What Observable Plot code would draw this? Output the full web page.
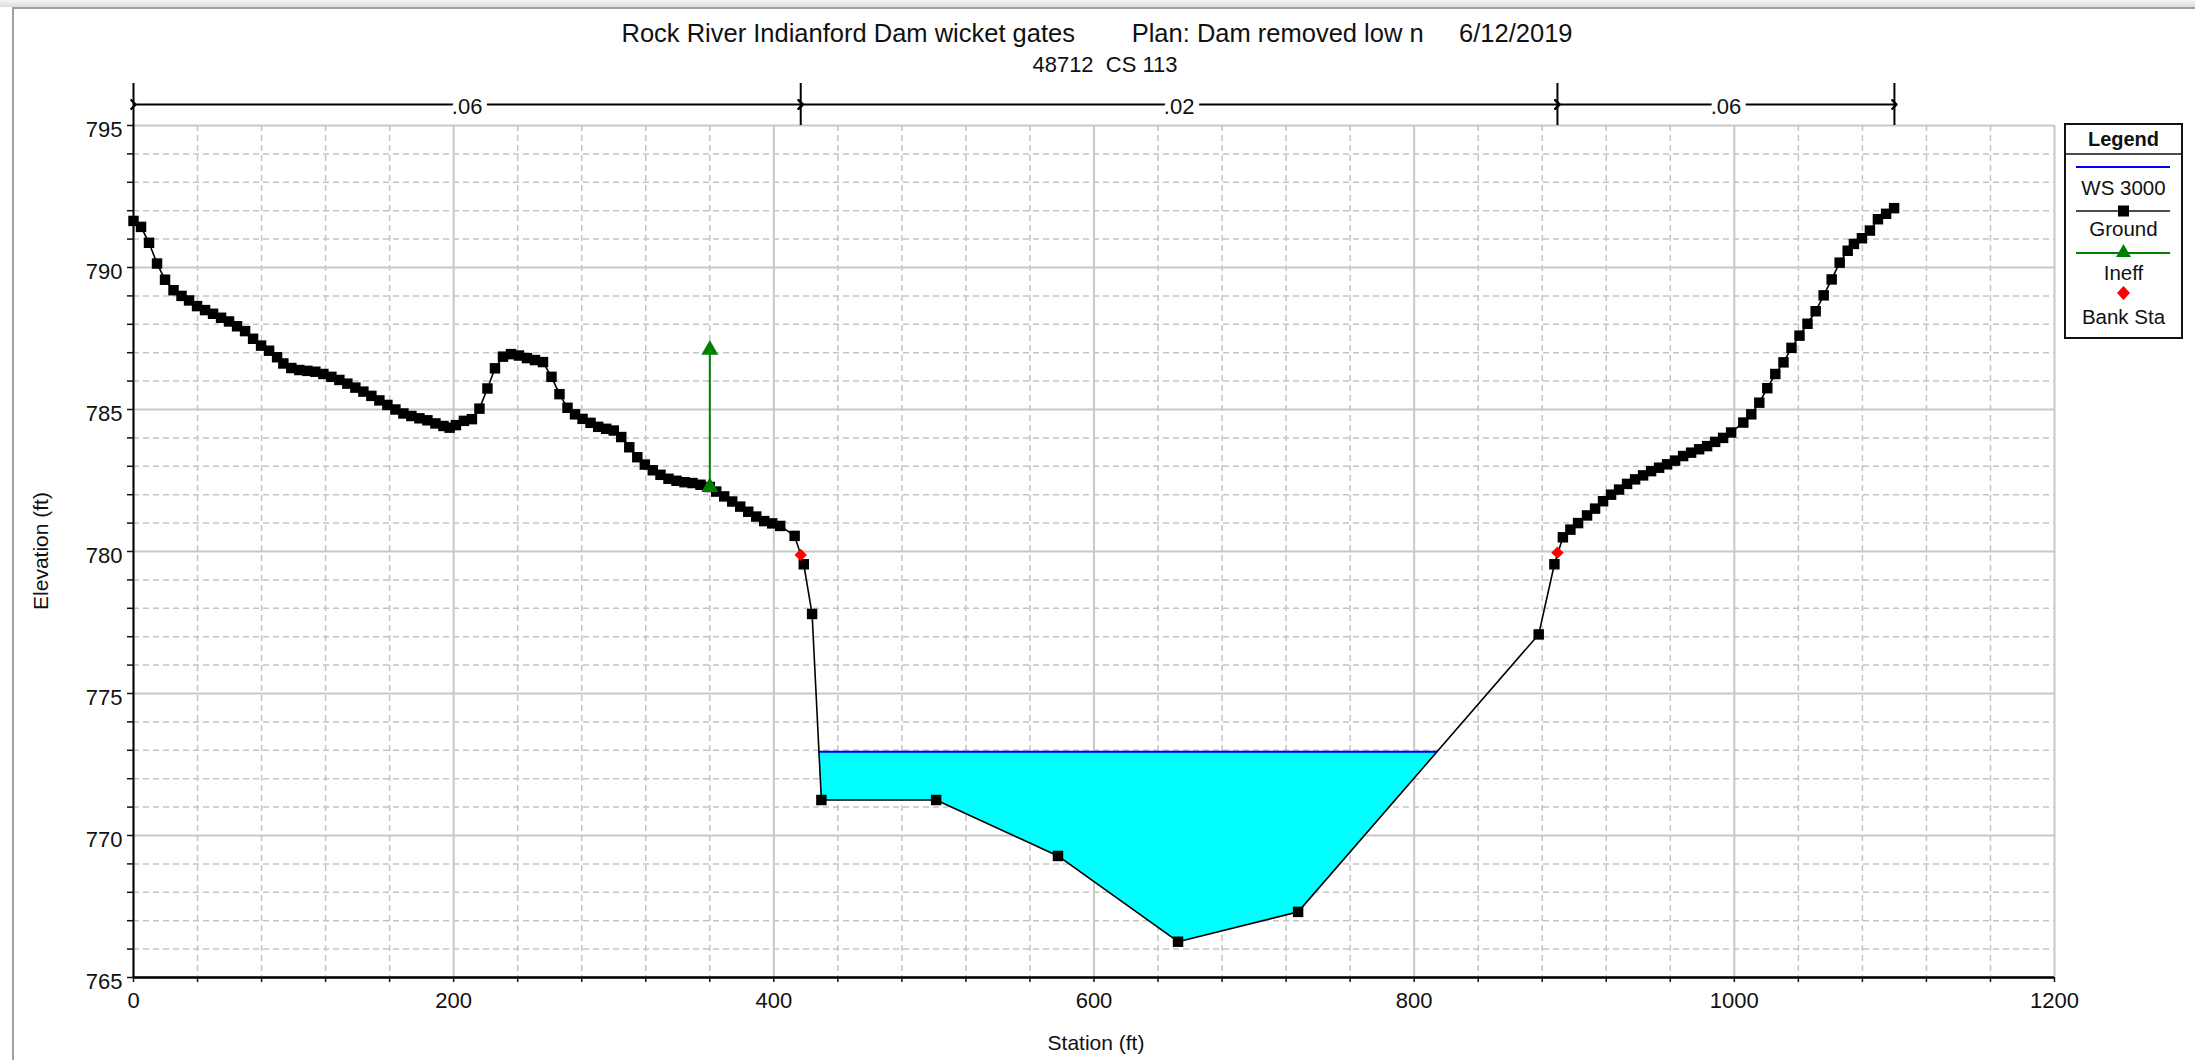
<!DOCTYPE html>
<html>
<head>
<meta charset="utf-8">
<script src="https://cdn.jsdelivr.net/npm/d3@7"></script>
<script src="https://cdn.jsdelivr.net/npm/@observablehq/plot@0.6"></script>
<style>
  body { margin: 0; background: #fff; font-family: "Liberation Sans", Arial, sans-serif; }
  #wrap { position: relative; width: 2195px; height: 1060px; overflow: hidden; background: #fff; }
  #topband { position: absolute; left: 0; top: 0; width: 2195px; height: 7px; background: linear-gradient(#f4f4f4, #dcdcdc); }
  #frameTop { position: absolute; left: 12px; top: 7px; width: 2183px; height: 2px; background: #a0a0a0; }
  #frameLeft { position: absolute; left: 12px; top: 7px; width: 2px; height: 1053px; background: #a0a0a0; }
  #chart { position: absolute; left: 0; top: 0; }
  .ttl { position: absolute; left: 0; width: 2194px; text-align: center; white-space: pre; line-height: 1; color: #111; }
  #title { top: 21px; font-size: 25.5px; }
  #subtitle { top: 54px; font-size: 22px; width: 2210px; }
  #ylabel { position: absolute; left: 40px; top: 551px; transform: translate(-50%, -50%) rotate(-90deg); font-size: 21px; white-space: pre; line-height: 1; color: #111; }
  #xlabel { position: absolute; left: 1096px; top: 1042px; transform: translate(-50%, -50%); font-size: 21px; white-space: pre; line-height: 1; color: #111; }
  #legend { position: absolute; left: 2064px; top: 123px; }
</style>
</head>
<body>
<div id="wrap">
  <div id="topband"></div>
  <div id="frameTop"></div>
  <div id="frameLeft"></div>
  <div id="chart"></div>
  <div id="title" class="ttl">Rock River Indianford Dam wicket gates        Plan: Dam removed low n     6/12/2019</div>
  <div id="subtitle" class="ttl">48712  CS 113</div>
  <div id="ylabel">Elevation (ft)</div>
  <div id="xlabel">Station (ft)</div>
  <svg id="legend" width="120" height="217" font-family="'Liberation Sans', Arial, sans-serif">
    <rect x="1" y="1" width="117" height="214" fill="#fff" stroke="#111" stroke-width="2"/>
    <line x1="1" x2="118" y1="31" y2="31" stroke="#111" stroke-width="1.5"/>
    <text x="59.5" y="23" text-anchor="middle" font-weight="bold" font-size="20" fill="#111">Legend</text>
    <line x1="12" x2="106" y1="44" y2="44" stroke="#0000ff" stroke-width="2"/>
    <text x="59.5" y="72" text-anchor="middle" font-size="20.5" fill="#111">WS 3000</text>
    <line x1="12" x2="106" y1="88" y2="88" stroke="#111" stroke-width="1.5"/>
    <rect x="54" y="82.5" width="11" height="11" fill="#000"/>
    <text x="59.5" y="113" text-anchor="middle" font-size="20.5" fill="#111">Ground</text>
    <line x1="12" x2="106" y1="130" y2="130" stroke="#008000" stroke-width="2"/>
    <path d="M59.5,121 L67,134 L52,134 Z" fill="#008000"/>
    <text x="59.5" y="157" text-anchor="middle" font-size="20.5" fill="#111">Ineff</text>
    <path d="M59.5,163 L66,170 L59.5,177 L53,170 Z" fill="#ff0000"/>
    <text x="59.5" y="201" text-anchor="middle" font-size="20.5" fill="#111">Bank Sta</text>
  </svg>
</div>
<script>
// ---------------- data ----------------
const groundStation = [
  0, 4.7, 9.7, 14.7, 19.7, 25, 30, 34.7, 39.7, 44.7, 49.7, 54.7, 59.7, 64.7, 69.7, 74.7, 79.7, 84.7, 89.7, 93.6,
  98.6, 103.6, 108.6, 113.6, 118.6, 123.6, 128.6, 133.6, 138.6, 143.6, 148.6, 153.6, 158.6, 163.6, 168.6, 173.6,
  178.6, 183.6, 188.6, 193.6, 197.5, 201.4, 206.4, 211.4, 216.1, 221.1, 225.8, 230.8, 235.8, 240.8, 245.8, 250.8,
  255.8, 261.1, 266.1, 271.1, 275.8, 280.5, 285.5, 290.3, 295.3, 300, 304.7, 309.7, 314.7, 319.4, 324.4, 329.2,
  334.2, 339.2, 344.2, 349.2, 354.2, 360, 364, 369, 374, 379, 384, 389, 394, 399, 404, 413, 418.7, 423.9,
  429.7, 501.4, 577.5, 652.5, 727.5, 877.8, 887.6, 892.9, 897.6, 902.4, 908, 913, 918, 923, 928, 933, 938, 943,
  948, 953, 958, 963, 968, 973, 978, 983, 988, 993, 998, 1005.6, 1010.6, 1015.6, 1020.6, 1025.6, 1030.7, 1035.7,
  1040.7, 1045.7, 1050.8, 1055.8, 1060.8, 1065.8, 1070.8, 1074.7, 1079.7, 1084.7, 1089.7, 1094.8, 1099.8
];
const groundElev = [
  791.64, 791.43, 790.87, 790.14, 789.57, 789.2, 789.0, 788.84, 788.64, 788.5, 788.37, 788.23, 788.1, 787.93, 787.76, 787.49, 787.25, 787.07, 786.84, 786.62,
  786.46, 786.39, 786.36, 786.33, 786.25, 786.15, 786.04, 785.91, 785.77, 785.63, 785.48, 785.32, 785.16, 785.0, 784.86, 784.77,
  784.69, 784.62, 784.51, 784.42, 784.36, 784.45, 784.6, 784.66, 785.03, 785.74, 786.45, 786.86, 786.95, 786.9, 786.81, 786.74,
  786.67, 786.15, 785.54, 785.06, 784.83, 784.67, 784.53, 784.39, 784.32, 784.26, 784.03, 783.67, 783.32, 783.06, 782.86, 782.7,
  782.56, 782.49, 782.44, 782.41, 782.35, 782.27, 782.11, 781.94, 781.76, 781.58, 781.4, 781.23, 781.07, 780.99, 780.9, 780.55, 779.55, 777.8,
  771.25, 771.25, 769.28, 766.26, 767.31, 777.08, 779.55, 780.5, 780.77, 781.0, 781.27, 781.51, 781.77, 782.0, 782.18, 782.38, 782.54, 782.68,
  782.83, 782.95, 783.07, 783.2, 783.36, 783.48, 783.6, 783.71, 783.86, 784.0, 784.19, 784.54, 784.83, 785.24, 785.75, 786.25, 786.66, 787.17,
  787.6, 788.02, 788.46, 789.02, 789.58, 790.17, 790.59, 790.83, 791.03, 791.3, 791.7, 791.89, 792.09
];
const bankStation = [416.8, 889.5];
const bankElev = [779.88, 779.96];
const ineffStation = [360];
const ineffLow = [782.27];
const ineffHigh = [787.1];
const wsElev = 772.95;
const nBreaks = [0, 416.8, 889.5, 1100];
const nValues = [".06", ".02", ".06"];
const xTickLabels = [0, 200, 400, 600, 800, 1000, 1200];
const yTickLabels = [765, 770, 775, 780, 785, 790, 795];

// ---------------- derived tables ----------------
const ground = groundStation.map((s, i) => ({station: s, elev: groundElev[i]}));
const banks = bankStation.map((s, i) => ({station: s, elev: bankElev[i]}));
const ineff = ineffStation.map((s, i) => ({station: s, lo: ineffLow[i], hi: ineffHigh[i]}));
const ineffEnds = ineff.flatMap(d => [{station: d.station, elev: d.lo}, {station: d.station, elev: d.hi}]);
const nSegments = nValues.map((v, i) => ({x1: nBreaks[i], x2: nBreaks[i + 1], label: v}));

// water polygon: ground below WS between the crossings
function interp(a, b, level) {
  const t = (a.elev - level) / (a.elev - b.elev);
  return a.station + t * (b.station - a.station);
}
let iL = -1, iR = -1;
for (let i = 0; i < ground.length - 1; i++) {
  if (iL < 0 && ground[i].elev >= wsElev && ground[i + 1].elev < wsElev) iL = i;
  else if (iL >= 0 && ground[i].elev <= wsElev && ground[i + 1].elev > wsElev) { iR = i; break; }
}
const xLeft = interp(ground[iL], ground[iL + 1], wsElev);
const xRight = interp(ground[iR], ground[iR + 1], wsElev);
const water = [{station: xLeft, elev: wsElev}, ...ground.slice(iL + 1, iR + 1), {station: xRight, elev: wsElev}];

const xMinor = d3.range(0, 1201, 40);
const yMinor = d3.range(765, 796, 1);
const xMinorOnly = xMinor.filter(d => d % 200 !== 0);
const yMinorOnly = yMinor.filter(d => d % 5 !== 0);

const plot = Plot.plot({
  width: 2195,
  height: 1060,
  marginLeft: 133,
  marginRight: 141,
  marginTop: 125,
  marginBottom: 83,
  x: {domain: [0, 1200], label: null},
  y: {domain: [765, 795], label: null},
  style: {fontFamily: "'Liberation Sans', Arial, sans-serif", fontSize: "22px", color: "#111", background: "transparent", overflow: "visible"},
  marks: [
    Plot.gridX({ticks: xMinorOnly, stroke: "#c4c4c4", strokeOpacity: 1, strokeWidth: 1.5, strokeDasharray: "6,4"}),
    Plot.gridY({ticks: yMinorOnly, stroke: "#c4c4c4", strokeOpacity: 1, strokeWidth: 1.5, strokeDasharray: "6,4"}),
    Plot.gridX({ticks: xTickLabels, stroke: "#c8c8c8", strokeOpacity: 1, strokeWidth: 2}),
    Plot.gridY({ticks: yTickLabels, stroke: "#c8c8c8", strokeOpacity: 1, strokeWidth: 2}),
    Plot.areaY(water, {x: "station", y1: "elev", y2: wsElev, fill: "#00ffff", curve: "linear"}),
    Plot.ruleY([wsElev], {x1: xLeft, x2: xRight, stroke: "#0000ff", strokeWidth: 2}),
    Plot.line(ground, {x: "station", y: "elev", stroke: "#000", strokeWidth: 1.6}),
    Plot.dot(ground, {x: "station", y: "elev", symbol: "square", fill: "#000", r: 5.9}),
    Plot.ruleX(ineff, {x: "station", y1: "lo", y2: "hi", stroke: "#008000", strokeWidth: 2}),
    Plot.dot(ineffEnds, {x: "station", y: "elev", symbol: "triangle", fill: "#008000", r: 6.3}),
    Plot.dot(banks, {x: "station", y: "elev", symbol: "diamond2", fill: "#ff0000", r: 5.6}),
    Plot.ruleY([765], {stroke: "#000", strokeWidth: 2.5}),
    Plot.ruleX([0], {stroke: "#000", strokeWidth: 2}),
    Plot.axisY({ticks: yMinor, tickSize: 6, tickFormat: () => "", label: null, strokeWidth: 1.5}),
    Plot.axisY({ticks: yTickLabels, tickSize: 0, tickPadding: 11, dy: 4, label: null, fontSize: 22, tickFormat: d => String(d)}),
    Plot.axisX({ticks: xMinor, tickSize: 5, tickFormat: () => "", label: null, strokeWidth: 1.5}),
    Plot.axisX({ticks: xTickLabels, tickSize: 0, tickPadding: 15, label: null, fontSize: 22, tickFormat: d => String(d)}),
    // Manning's n breaks above the plot
    Plot.ruleX(nBreaks, {x: d => d, y1: 795, y2: 795, insetTop: -42, stroke: "#000", strokeWidth: 2}),
    Plot.link(nSegments, {x1: "x1", x2: "x2", y1: 795, y2: 795, dy: -21, stroke: "#000", strokeWidth: 2.2, markerStart: "arrow", markerEnd: "arrow"}),
    Plot.text(nSegments, {x: d => (d.x1 + d.x2) / 2, y: 795, dy: -19, text: "label", fill: "#111", stroke: "#fff", strokeWidth: 12, fontSize: 22})
  ]
});
document.getElementById("chart").appendChild(plot);
</script>
</body>
</html>
